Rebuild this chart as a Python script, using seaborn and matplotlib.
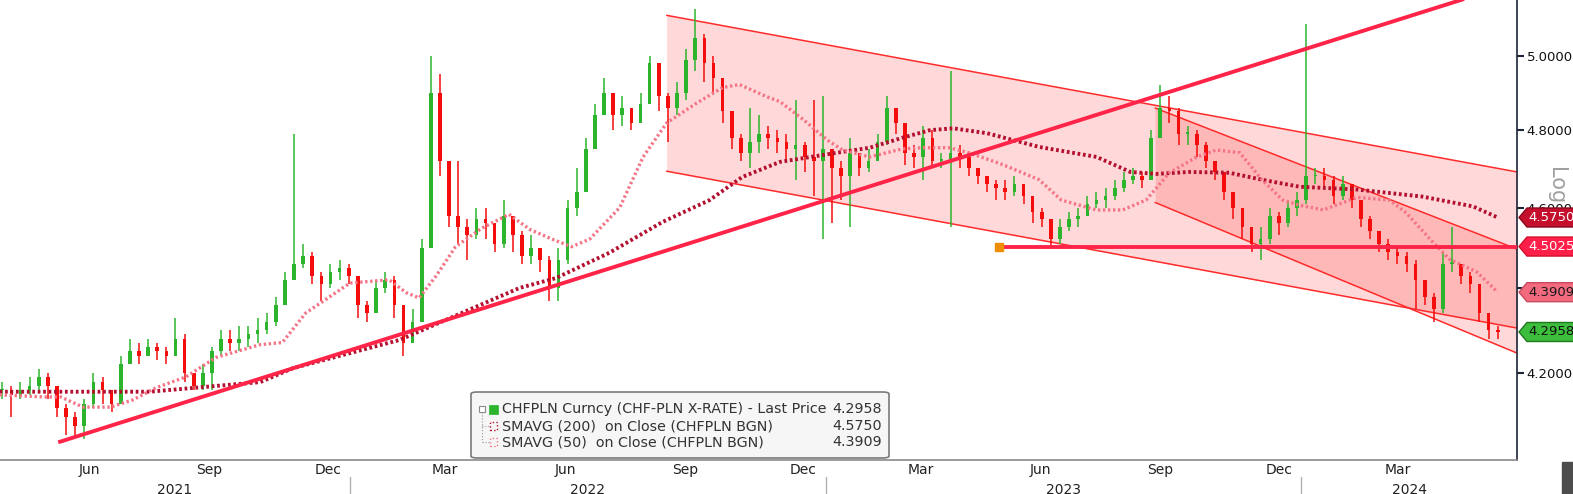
import numpy as np
import pandas as pd
import matplotlib
matplotlib.use("Agg")
import matplotlib.pyplot as plt
import matplotlib.dates as mdates
import matplotlib.transforms as mtrans
from matplotlib.patches import Polygon, FancyBboxPatch, Rectangle
from matplotlib.ticker import FormatStrFormatter, NullFormatter, NullLocator
import seaborn as sns

W, H = 1573, 494

# weekly candles (Friday closes), CHFPLN
candle_dates = pd.date_range("2021-04-09", "2024-05-31", freq="W-FRI")
closes = [4.16, 4.15, 4.16, 4.17, 4.19, 4.17, 4.12, 4.10, 4.08, 4.13,
          4.18, 4.16, 4.13, 4.22, 4.25, 4.24, 4.26, 4.25, 4.24, 4.28,
          4.20, 4.17, 4.20, 4.25, 4.28, 4.27, 4.28, 4.29, 4.30, 4.32,
          4.36, 4.42, 4.46, 4.48, 4.43, 4.41, 4.44, 4.45, 4.43, 4.36,
          4.34, 4.40, 4.42, 4.36, 4.27, 4.32, 4.50, 4.90, 4.72, 4.58,
          4.55, 4.53, 4.57, 4.56, 4.51, 4.58, 4.53, 4.48, 4.50, 4.47,
          4.40, 4.47, 4.60, 4.64, 4.75, 4.84, 4.90, 4.84, 4.86, 4.82,
          4.87, 4.98, 4.89, 4.86, 4.90, 4.99, 5.05, 4.98, 4.94, 4.85,
          4.78, 4.74, 4.77, 4.79, 4.78, 4.77, 4.75, 4.76, 4.73, 4.72,
          4.75, 4.70, 4.68, 4.74, 4.70, 4.72, 4.77, 4.86, 4.82, 4.74,
          4.73, 4.78, 4.72, 4.72, 4.74, 4.73, 4.70, 4.68, 4.66, 4.65,
          4.64, 4.66, 4.63, 4.59, 4.57, 4.52, 4.55, 4.57, 4.58, 4.61,
          4.62, 4.63, 4.65, 4.67, 4.68, 4.67, 4.78, 4.86, 4.85, 4.79,
          4.79, 4.76, 4.72, 4.69, 4.64, 4.60, 4.55, 4.51, 4.52, 4.58,
          4.56, 4.60, 4.62, 4.68, 4.68, 4.67, 4.63, 4.66, 4.62, 4.57,
          4.54, 4.51, 4.49, 4.48, 4.46, 4.42, 4.38, 4.35, 4.46, 4.46,
          4.43, 4.41, 4.34, 4.30, 4.2958]
highs = [4.18, 4.17, 4.18, 4.19, 4.21, 4.20, 4.17, 4.13, 4.11, 4.14,
         4.20, 4.19, 4.16, 4.24, 4.28, 4.27, 4.28, 4.27, 4.26, 4.33,
         4.29, 4.20, 4.22, 4.26, 4.30, 4.30, 4.31, 4.31, 4.33, 4.34,
         4.38, 4.44, 4.79, 4.51, 4.49, 4.44, 4.46, 4.47, 4.46, 4.43,
         4.37, 4.42, 4.44, 4.43, 4.34, 4.35, 4.52, 5.00, 4.95, 4.68,
         4.72, 4.57, 4.60, 4.60, 4.56, 4.62, 4.58, 4.54, 4.53, 4.50,
         4.48, 4.50, 4.62, 4.70, 4.78, 4.87, 4.94, 4.90, 4.89, 4.86,
         4.90, 5.00, 4.97, 4.90, 4.93, 5.02, 5.13, 5.06, 5.00, 4.94,
         4.85, 4.79, 4.86, 4.84, 4.81, 4.80, 4.79, 4.88, 4.77, 4.88,
         4.89, 4.75, 4.72, 4.78, 4.74, 4.75, 4.79, 4.89, 4.86, 4.82,
         4.76, 4.81, 4.80, 4.74, 4.96, 4.76, 4.74, 4.70, 4.68, 4.67,
         4.67, 4.68, 4.66, 4.63, 4.60, 4.57, 4.57, 4.59, 4.60, 4.63,
         4.64, 4.65, 4.67, 4.69, 4.70, 4.69, 4.80, 4.92, 4.89, 4.86,
         4.81, 4.80, 4.77, 4.72, 4.69, 4.64, 4.60, 4.55, 4.55, 4.60,
         4.59, 4.62, 4.64, 5.09, 4.70, 4.70, 4.68, 4.68, 4.66, 4.62,
         4.58, 4.54, 4.52, 4.50, 4.49, 4.47, 4.41, 4.39, 4.49, 4.55,
         4.46, 4.44, 4.40, 4.34, 4.31]
lows = [4.14, 4.10, 4.14, 4.15, 4.16, 4.14, 4.10, 4.06, 4.06, 4.05,
        4.12, 4.13, 4.11, 4.15, 4.22, 4.22, 4.24, 4.23, 4.22, 4.24,
        4.18, 4.16, 4.16, 4.16, 4.24, 4.25, 4.25, 4.26, 4.27, 4.29,
        4.31, 4.36, 4.42, 4.45, 4.41, 4.37, 4.40, 4.42, 4.41, 4.33,
        4.32, 4.34, 4.39, 4.33, 4.24, 4.27, 4.32, 4.60, 4.68, 4.55,
        4.51, 4.47, 4.52, 4.52, 4.49, 4.50, 4.49, 4.46, 4.46, 4.44,
        4.37, 4.37, 4.46, 4.58, 4.65, 4.76, 4.84, 4.80, 4.81, 4.80,
        4.83, 4.88, 4.85, 4.77, 4.84, 4.88, 4.96, 4.93, 4.90, 4.82,
        4.75, 4.72, 4.70, 4.74, 4.75, 4.74, 4.72, 4.67, 4.69, 4.63,
        4.52, 4.56, 4.62, 4.55, 4.68, 4.69, 4.73, 4.76, 4.79, 4.71,
        4.70, 4.67, 4.70, 4.70, 4.55, 4.70, 4.68, 4.66, 4.64, 4.62,
        4.62, 4.63, 4.61, 4.56, 4.55, 4.50, 4.51, 4.54, 4.55, 4.58,
        4.60, 4.60, 4.62, 4.64, 4.66, 4.65, 4.67, 4.80, 4.82, 4.76,
        4.76, 4.73, 4.70, 4.67, 4.62, 4.57, 4.52, 4.49, 4.47, 4.51,
        4.53, 4.55, 4.58, 4.61, 4.66, 4.65, 4.61, 4.62, 4.60, 4.55,
        4.52, 4.49, 4.47, 4.46, 4.44, 4.35, 4.36, 4.32, 4.34, 4.44,
        4.41, 4.39, 4.32, 4.28, 4.28]

# moving averages
sma200_dates = ["2021-04-07", "2021-07-31", "2021-10-24", "2021-11-18", "2022-02-08",
                "2022-05-11", "2022-06-08", "2022-07-19", "2022-08-29", "2022-10-04",
                "2022-10-29", "2022-11-27", "2023-01-10", "2023-02-04", "2023-03-01",
                "2023-03-22", "2023-04-09", "2023-05-05", "2023-06-14", "2023-07-28",
                "2023-08-23", "2023-09-12", "2023-10-07", "2023-11-07", "2023-12-02",
                "2023-12-31", "2024-02-13", "2024-04-03", "2024-05-12", "2024-05-31"]
sma200_vals = [4.157, 4.157, 4.179, 4.211, 4.277, 4.401, 4.425, 4.487, 4.564, 4.619,
               4.678, 4.717, 4.741, 4.754, 4.780, 4.800, 4.805, 4.792, 4.756, 4.730,
               4.691, 4.686, 4.691, 4.689, 4.671, 4.653, 4.646, 4.628, 4.603, 4.575]

sma50_dates = ["2021-04-07", "2021-05-11", "2021-05-24", "2021-06-10", "2021-07-01",
               "2021-07-18", "2021-08-05", "2021-08-28", "2021-09-20", "2021-10-24",
               "2021-11-10", "2021-11-28", "2022-01-01", "2022-01-31", "2022-02-13",
               "2022-02-23", "2022-03-08", "2022-03-23", "2022-04-12", "2022-05-03",
               "2022-05-19", "2022-06-05", "2022-06-20", "2022-07-04", "2022-07-27",
               "2022-08-14", "2022-09-01", "2022-09-24", "2022-10-14", "2022-10-27",
               "2022-11-17", "2022-11-27", "2022-12-15", "2023-01-02", "2023-01-14",
               "2023-02-04", "2023-03-01", "2023-03-17", "2023-04-06", "2023-04-21",
               "2023-05-17", "2023-06-14", "2023-07-01", "2023-07-28", "2023-08-17",
               "2023-09-04", "2023-09-22", "2023-10-13", "2023-10-28", "2023-11-15",
               "2023-12-02", "2023-12-18", "2023-12-31", "2024-01-18", "2024-02-13",
               "2024-03-09", "2024-03-22", "2024-04-09", "2024-04-24", "2024-05-15",
               "2024-05-31"]
sma50_vals = [4.150, 4.145, 4.145, 4.122, 4.122, 4.138, 4.166, 4.191, 4.236, 4.266,
              4.271, 4.341, 4.413, 4.421, 4.390, 4.377, 4.430, 4.502, 4.548, 4.583,
              4.545, 4.521, 4.502, 4.521, 4.600, 4.730, 4.819, 4.872, 4.914, 4.922,
              4.889, 4.876, 4.828, 4.775, 4.748, 4.730, 4.751, 4.754, 4.754, 4.741,
              4.710, 4.671, 4.619, 4.594, 4.594, 4.619, 4.689, 4.730, 4.748, 4.741,
              4.671, 4.619, 4.606, 4.594, 4.626, 4.619, 4.586, 4.521, 4.471, 4.440,
              4.3909]

# drawn studies (dates, prices)
trend_up = (["2021-05-22", "2024-06-15"], [4.043, 5.207])
big_top = (["2022-09-01", "2024-06-15"], [5.113, 4.691])
big_bot = (["2022-09-01", "2024-06-15"], [4.693, 4.305])
small_top = (["2023-09-11", "2024-06-15"], [4.859, 4.496])
small_bot = (["2023-09-11", "2024-06-15"], [4.613, 4.246])
hline_start = "2023-05-14"
hline_level = 4.5025

last_price = 4.2958
last_sma200 = 4.5750
last_sma50 = 4.3909

GREEN = "#2cb52c"
RED = "#f50d0d"
SMA200_C = "#b3102f"
SMA50_C = "#f47486"
LINE_C = "#ff2448"

sns.set_style("white")
plt.rcParams["font.family"] = ["DejaVu Sans"]

fig = plt.figure(figsize=(W / 100, H / 100), dpi=100)
ax = fig.add_axes([0, 34 / H, 1517 / W, 460 / H])

# channels
for top, bot in [(big_top, big_bot), (small_top, small_bot)]:
    xd = pd.to_datetime(top[0])
    ax.fill_between(xd, bot[1], top[1], color="#ff0000", alpha=0.15, lw=0, zorder=1)
    ax.plot(xd, top[1], color="#ff2a2a", lw=1.1, zorder=1.5)
    ax.plot(pd.to_datetime(bot[0]), bot[1], color="#ff2a2a", lw=1.1, zorder=1.5)

# candles
dn = mdates.date2num(candle_dates)
c = np.array(closes)
o = np.array([closes[0]] + closes[:-1])
hi = np.maximum(np.array(highs), np.maximum(o, c))
lo = np.minimum(np.array(lows), np.minimum(o, c))
cols = [GREEN if cc >= oo else RED for cc, oo in zip(c, o)]
ax.vlines(dn, lo, hi, colors=cols, lw=1.1, zorder=2)
body_lo = np.minimum(o, c)
body_h = np.maximum(np.abs(c - o), 0.004)
ax.bar(dn, body_h, bottom=body_lo, width=2.8, color=cols, lw=0, zorder=2.2)

# moving averages
sns.lineplot(x=pd.to_datetime(sma200_dates), y=sma200_vals, ax=ax, color=SMA200_C,
             lw=2.8, linestyle=(0, (0.7, 0.7)), legend=False, zorder=3)
sns.lineplot(x=pd.to_datetime(sma50_dates), y=sma50_vals, ax=ax, color=SMA50_C,
             lw=2.4, linestyle=(0, (0.7, 0.8)), legend=False, zorder=3)

# trend line and horizontal level
ax.plot(pd.to_datetime(trend_up[0]), trend_up[1], color=LINE_C, lw=2.8, zorder=4,
        solid_capstyle="butt")
xlim_left = mdates.date2num(pd.Timestamp("2022-01-01")) - 268.7
xlim_right = mdates.date2num(pd.Timestamp("2022-01-01")) + 895.8
ax.plot([mdates.date2num(pd.Timestamp(hline_start)), xlim_right],
        [hline_level, hline_level], color=LINE_C, lw=2.8, zorder=4)
ax.plot([mdates.date2num(pd.Timestamp(hline_start))], [hline_level], marker="s",
        ms=5.5, color="#f08c00", mec="#f08c00", zorder=5)

ax.set_yscale("log")
ax.set_ylim(4.0038, 5.1563)
ax.set_xlim(xlim_left, xlim_right)

# y axis on the right
ax.yaxis.tick_right()
ax.set_yticks([4.2, 4.4, 4.6, 4.8, 5.0])
ax.yaxis.set_major_formatter(FormatStrFormatter("%.4f"))
ax.yaxis.set_minor_locator(NullLocator())
ax.yaxis.set_minor_formatter(NullFormatter())
ax.tick_params(axis="y", which="major", length=5, width=1.5, color="#1c2538",
               labelsize=9.5, labelcolor="#111111", pad=2, direction="out")

# x axis: month ticks, quarter labels mid-month
ax.xaxis.set_major_locator(mdates.MonthLocator())
ax.xaxis.set_major_formatter(NullFormatter())
lab_pos, lab_txt = [], []
for y in [2021, 2022, 2023, 2024]:
    for m, name in [(3, "Mar"), (6, "Jun"), (9, "Sep"), (12, "Dec")]:
        d = mdates.date2num(pd.Timestamp(year=y, month=m, day=15))
        if xlim_left < d < xlim_right - 30:
            lab_pos.append(d)
            lab_txt.append(name)
ax.set_xticks(lab_pos, minor=True)
ax.set_xticklabels(lab_txt, minor=True)
ax.tick_params(axis="x", which="major", length=5, width=1, color="#9a9a9a")
ax.tick_params(axis="x", which="minor", length=0, pad=2, labelsize=10, labelcolor="#222222")

blend = mtrans.blended_transform_factory(ax.transData, ax.transAxes)
bounds = [xlim_left] + [mdates.date2num(pd.Timestamp(f"{y}-01-01")) for y in (2022, 2023, 2024)] + [xlim_right]
for i, y in enumerate([2021, 2022, 2023, 2024]):
    ax.text((bounds[i] + bounds[i + 1]) / 2, -0.065, str(y), transform=blend,
            ha="center", va="center", fontsize=10, color="#222222")
for b in bounds[1:-1]:
    ax.plot([b, b], [-0.037, -0.08], transform=blend, clip_on=False, color="#b0b0b0", lw=1)

for s in ["top", "left"]:
    ax.spines[s].set_visible(False)
ax.spines["bottom"].set_color("#8a8a8a")
ax.spines["bottom"].set_linewidth(1.2)
ax.spines["right"].set_color("#1c2538")
ax.spines["right"].set_linewidth(1.2)
ax.set_xlabel("")
ax.set_ylabel("")

# "Log" label partly hidden behind the price tags
fig.text(1556 / W, 1 - 186 / H, "Log", rotation=-90, color="#a0a0a0", fontsize=15,
         ha="center", va="center", zorder=1)

# price tags on the right
ident = mtrans.IdentityTransform()
for val, face, edge, tcol in [(last_sma200, "#c40f2d", "#8a0a20", "white"),
                              (hline_level, "#ff1f48", "#d0102c", "white"),
                              (last_sma50, "#f26a7e", "#c84a5c", "#1a1a1a"),
                              (last_price, "#3cbd3c", "#1f7a1f", "#111111")]:
    yp = ax.transData.transform((xlim_left, val))[1]
    hh = 9.5
    poly = Polygon([(1519, yp), (1527, yp + hh), (1580, yp + hh), (1580, yp - hh), (1527, yp - hh)],
                   closed=True, transform=ident, fc=face, ec=edge, lw=1, zorder=5)
    fig.add_artist(poly)
    fig.text(1528 / W, yp / H, f"{val:.4f}", ha="left", va="center", fontsize=9.5,
             color=tcol, zorder=6)

# legend box
def fx(x):
    return x / W


def fy(y):
    return 1 - y / H


box = FancyBboxPatch((fx(471), fy(458)), fx(889) - fx(471), fy(392) - fy(458),
                     boxstyle="round,pad=0,rounding_size=0.004", transform=fig.transFigure,
                     fc="#f6f6f6", ec="#7a7a7a", lw=1.2, zorder=7)
fig.add_artist(box)
rows = [("CHFPLN Curncy (CHF-PLN X-RATE) - Last Price", last_price, 409),
        ("SMAVG (200)  on Close (CHFPLN BGN)", last_sma200, 426),
        ("SMAVG (50)  on Close (CHFPLN BGN)", last_sma50, 442)]
for txt, val, yy in rows:
    fig.text(fx(502), fy(yy), txt, ha="left", va="center", fontsize=10.3, color="#333333", zorder=8)
    fig.text(fx(882), fy(yy), f"{val:.4f}", ha="right", va="center", fontsize=10.3,
             color="#333333", zorder=8)
# tree lines and markers
fig.add_artist(Rectangle((fx(479), fy(412)), fx(485) - fx(479), fy(406) - fy(412),
                         transform=fig.transFigure, fc="white", ec="#8a8a8a", lw=0.8, zorder=8))
fig.add_artist(plt.Line2D([fx(482), fx(482)], [fy(412), fy(442)], transform=fig.transFigure,
                          color="#9a9a9a", lw=0.8, ls=":", zorder=8))
for yy in (426, 442):
    fig.add_artist(plt.Line2D([fx(482), fx(489)], [fy(yy), fy(yy)], transform=fig.transFigure,
                              color="#9a9a9a", lw=0.8, ls=":", zorder=8))
fig.add_artist(Rectangle((fx(489), fy(414)), fx(498) - fx(489), fy(405) - fy(414),
                         transform=fig.transFigure, fc="#2cb52c", ec="#2cb52c", lw=0.5, zorder=8))
for yy, col in ((426, SMA200_C), (442, SMA50_C)):
    fig.add_artist(Rectangle((fx(490), fy(yy + 4)), fx(497) - fx(490), fy(yy - 4) - fy(yy + 4),
                             transform=fig.transFigure, fc="none", ec=col, lw=1, ls=":", zorder=8))

# corner widget
fig.add_artist(Rectangle((1562 / W, 0), 15 / W, 32 / H, transform=fig.transFigure,
                         fc="#4d4d4d", ec="#4d4d4d", zorder=5))

fig.savefig("out.png", dpi=100, facecolor="white")
